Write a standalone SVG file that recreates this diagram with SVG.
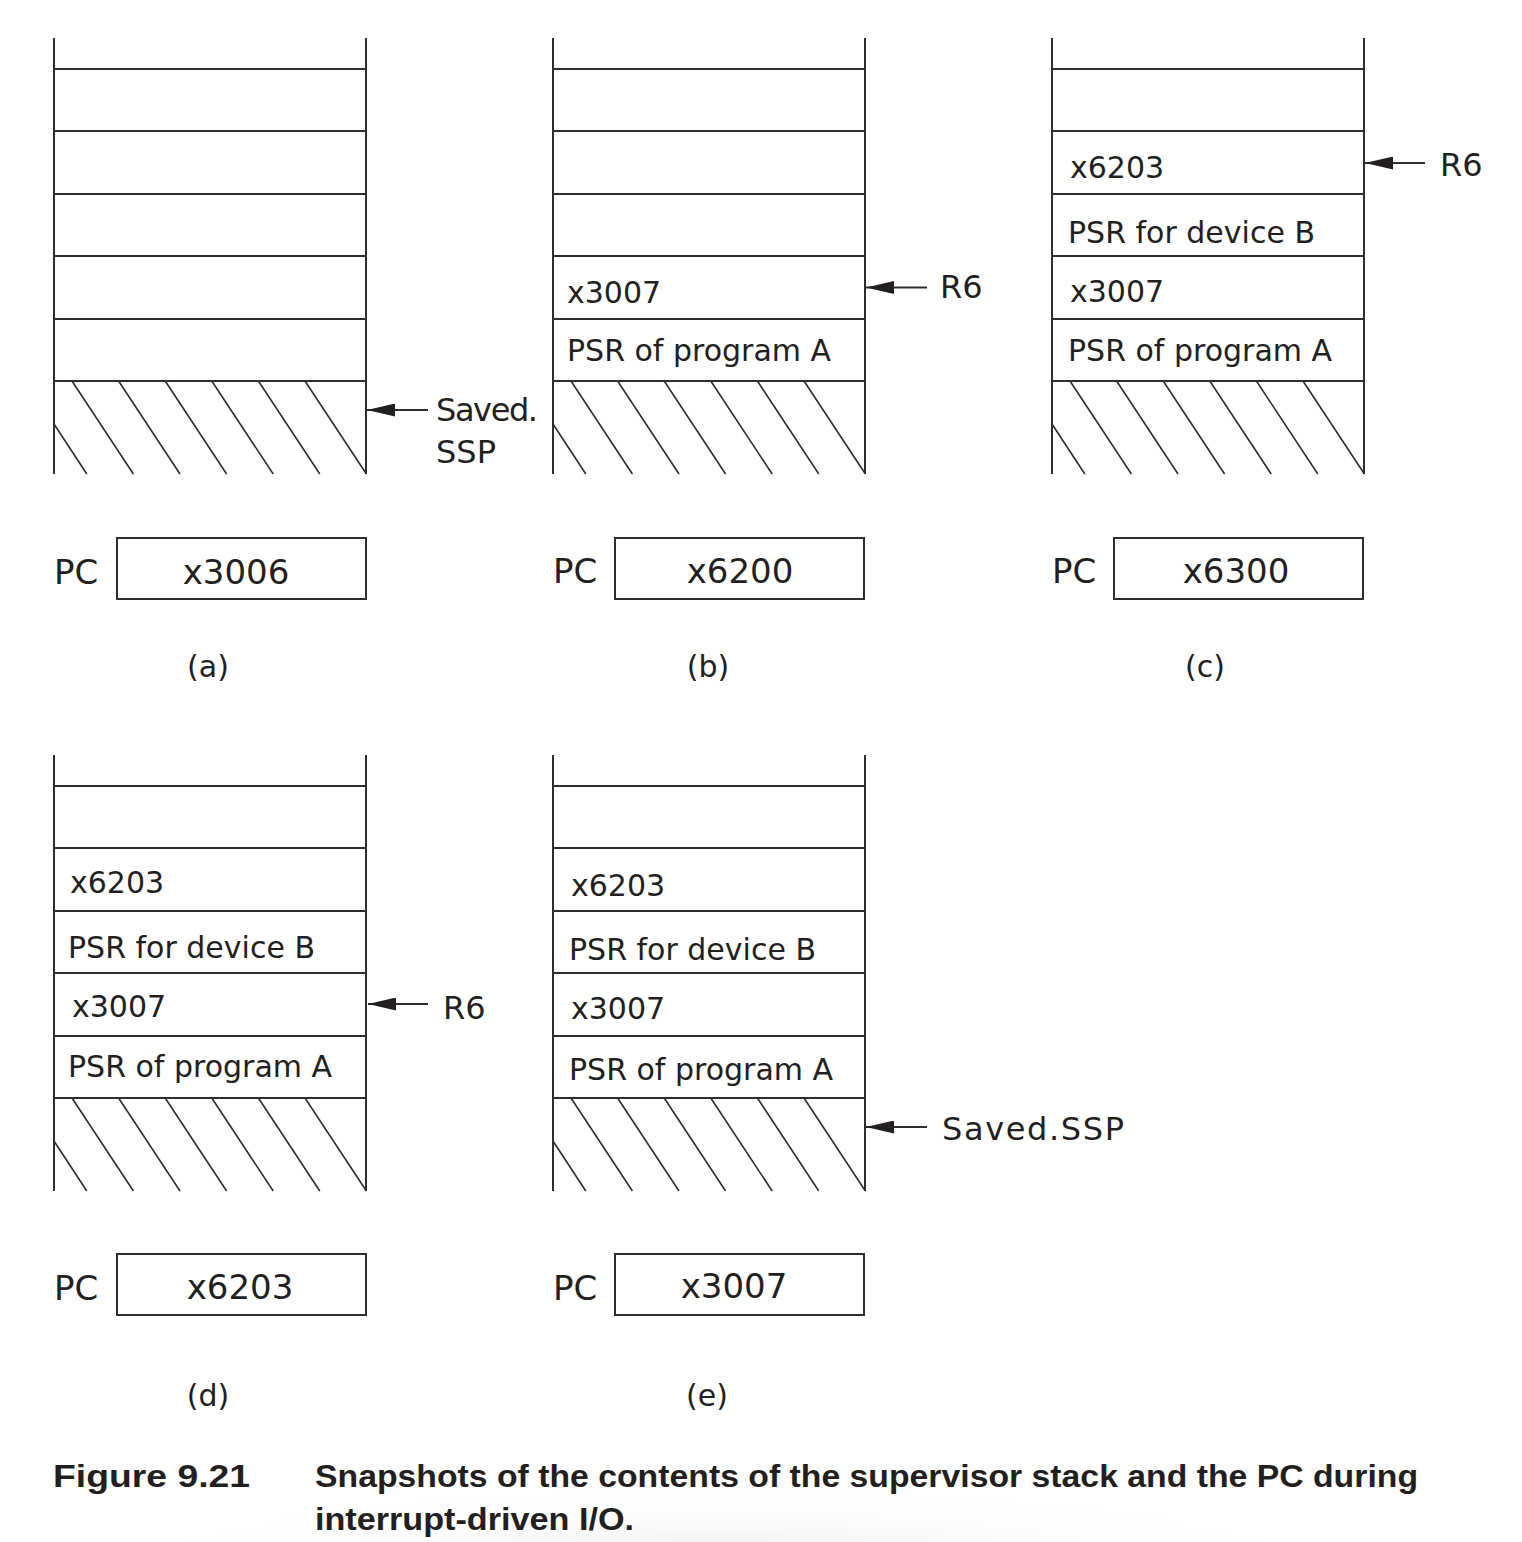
<svg xmlns="http://www.w3.org/2000/svg" xmlns:xlink="http://www.w3.org/1999/xlink" width="1522" height="1542" viewBox="0 0 1522 1542">
<style>
  .ln { stroke:#2e2e2e; stroke-width:2; fill:none; }
  .hl { stroke:#2e2e2e; stroke-width:1.6; fill:none; }
  .cell { font-family:"DejaVu Sans","Liberation Sans",sans-serif; font-size:30px; fill:#231f20; }
  .pc { font-family:"DejaVu Sans","Liberation Sans",sans-serif; font-size:34px; fill:#231f20; }
  .lab { font-family:"DejaVu Sans","Liberation Sans",sans-serif; font-size:32px; fill:#231f20; }
  .sub { font-family:"DejaVu Sans","Liberation Sans",sans-serif; font-size:30px; fill:#231f20; text-anchor:middle; }
  .cap { font-family:"Liberation Sans",Arial,sans-serif; font-size:32px; font-weight:bold; fill:#231f20; }
  .arr { stroke:#2e2e2e; stroke-width:2; fill:none; marker-end:url(#ah); }
</style>
<defs>
  <marker id="ah" viewBox="0 0 28 13" refX="28" refY="6.5" markerWidth="28" markerHeight="13" markerUnits="userSpaceOnUse" orient="auto">
    <path d="M0,0 L28,6.5 L0,13 Z" fill="#231f20"/>
  </marker>
  <radialGradient id="shadow" cx="0.5" cy="0.5" r="0.5">
    <stop offset="0" stop-color="#d8d8d8" stop-opacity="0.6"/>
    <stop offset="1" stop-color="#ffffff" stop-opacity="0"/>
  </radialGradient>
  <g id="stack">
    <path class="ln" d="M0,0 V436 M312,0 V436 M0,31 H312 M0,93 H312 M0,156 H312 M0,218 H312 M0,281 H312 M0,343 H312"/>
    <path class="hl" d="M0,386 L32.8,436 M18,343 L79.4,436 M64.6,343 L126,436 M111.2,343 L172.6,436 M157.8,343 L219.2,436 M204.4,343 L265.8,436 M251,343 L312.4,436"/>
  </g>
</defs>
<rect width="1522" height="1542" fill="#ffffff"/>
<ellipse cx="720" cy="1565" rx="580" ry="75" fill="url(#shadow)"/>

<g id="stack-a">
  <use xlink:href="#stack" href="#stack" transform="translate(54,38)"/>
</g>
<g id="pc-a">
  <text class="pc" x="54" y="584">PC</text>
  <rect class="ln" x="117" y="538" width="249" height="61"/>
  <text class="pc" x="236" y="584" text-anchor="middle">x3006</text>
  <text class="sub" x="208" y="677">(a)</text>
</g>
<g id="label-a">
  <text class="lab" x="436" y="421" textLength="102">Saved.</text>
  <text class="lab" x="436" y="463">SSP</text>
</g>

<g id="stack-b">
  <use xlink:href="#stack" href="#stack" transform="translate(553,38)"/>
  <text class="cell" x="567" y="303">x3007</text>
  <text class="cell" x="567" y="361">PSR of program A</text>
</g>
<g id="pc-b">
  <text class="pc" x="553" y="583">PC</text>
  <rect class="ln" x="615" y="538" width="249" height="61"/>
  <text class="pc" x="740" y="583" text-anchor="middle">x6200</text>
  <text class="sub" x="708" y="677">(b)</text>
</g>
<g id="label-b">
  <text class="lab" x="940" y="298">R6</text>
</g>

<g id="stack-c">
  <use xlink:href="#stack" href="#stack" transform="translate(1052,38)"/>
  <text class="cell" x="1070" y="178">x6203</text>
  <text class="cell" x="1068" y="243">PSR for device B</text>
  <text class="cell" x="1070" y="302">x3007</text>
  <text class="cell" x="1068" y="361">PSR of program A</text>
</g>
<g id="pc-c">
  <text class="pc" x="1052" y="583">PC</text>
  <rect class="ln" x="1114" y="538" width="249" height="61"/>
  <text class="pc" x="1236" y="583" text-anchor="middle">x6300</text>
  <text class="sub" x="1205" y="677">(c)</text>
</g>
<g id="label-c">
  <text class="lab" x="1440" y="176">R6</text>
</g>

<g id="stack-d">
  <use xlink:href="#stack" href="#stack" transform="translate(54,755)"/>
  <text class="cell" x="70" y="893">x6203</text>
  <text class="cell" x="68" y="958">PSR for device B</text>
  <text class="cell" x="72" y="1017">x3007</text>
  <text class="cell" x="68" y="1077">PSR of program A</text>
</g>
<g id="pc-d">
  <text class="pc" x="54" y="1300">PC</text>
  <rect class="ln" x="117" y="1254" width="249" height="61"/>
  <text class="pc" x="240" y="1299" text-anchor="middle">x6203</text>
  <text class="sub" x="208" y="1406">(d)</text>
</g>
<g id="label-d">
  <text class="lab" x="443" y="1019">R6</text>
</g>

<g id="stack-e">
  <use xlink:href="#stack" href="#stack" transform="translate(553,755)"/>
  <text class="cell" x="571" y="896">x6203</text>
  <text class="cell" x="569" y="960">PSR for device B</text>
  <text class="cell" x="571" y="1019">x3007</text>
  <text class="cell" x="569" y="1080">PSR of program A</text>
</g>
<g id="pc-e">
  <text class="pc" x="553" y="1300">PC</text>
  <rect class="ln" x="615" y="1254" width="249" height="61"/>
  <text class="pc" x="734" y="1298" text-anchor="middle">x3007</text>
  <text class="sub" x="707" y="1406">(e)</text>
</g>
<g id="label-e">
  <text class="lab" x="942" y="1140" textLength="182">Saved.SSP</text>
</g>

<g id="connectors">
  <line class="arr" x1="428" y1="410" x2="367" y2="410"/>
  <line class="arr" x1="927" y1="287.5" x2="866" y2="287.5"/>
  <line class="arr" x1="1425" y1="163" x2="1365" y2="163"/>
  <line class="arr" x1="428" y1="1004" x2="368" y2="1004"/>
  <line class="arr" x1="927" y1="1127" x2="866" y2="1127"/>
</g>

<g id="caption">
  <text class="cap" x="53" y="1487" textLength="197" lengthAdjust="spacingAndGlyphs">Figure 9.21</text>
  <text class="cap" x="315" y="1487" textLength="1103" lengthAdjust="spacingAndGlyphs">Snapshots of the contents of the supervisor stack and the PC during</text>
  <text class="cap" x="315" y="1530" textLength="319" lengthAdjust="spacingAndGlyphs">interrupt-driven I/O.</text>
</g>
</svg>
